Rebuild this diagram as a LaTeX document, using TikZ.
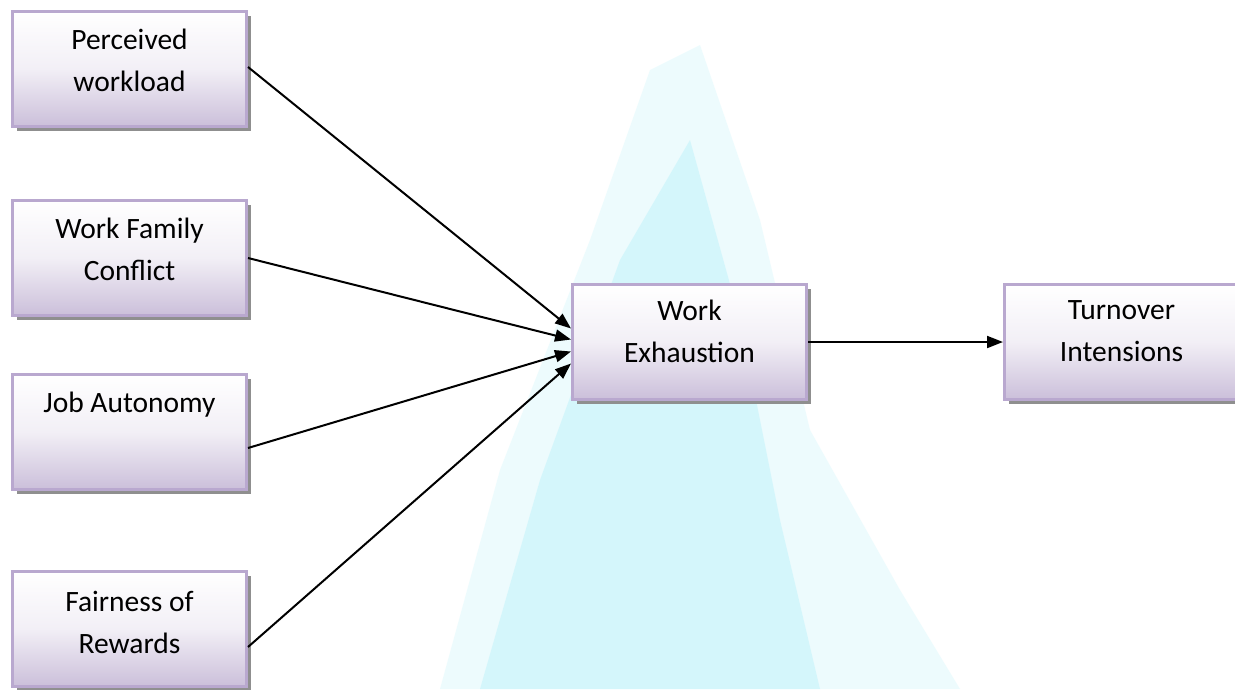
\documentclass[tikz,border=0pt]{standalone}
\usepackage{fontspec}
\setmainfont{Carlito}
\usetikzlibrary{arrows.meta,shadows,shadings}
\definecolor{boxedge}{HTML}{B9A8CF}
\definecolor{boxbot}{HTML}{CBBFDA}
\definecolor{shadowc}{HTML}{8F8F8F}
\definecolor{wmcyan}{HTML}{D2F7FC}
\definecolor{wmcyan2}{HTML}{BDF2FB}
\begin{document}
\begin{tikzpicture}[x=1pt,y=-1pt,
  box/.style={draw=boxedge, line width=3pt, top color=white, bottom color=boxbot,
    middle color=white!75!boxbot,
    minimum width=234pt, minimum height=115pt, anchor=north west, inner sep=0pt,
    drop shadow={shadow xshift=4pt, shadow yshift=-4pt, fill=shadowc, opacity=1}},
  lbl/.style={anchor=north, align=center, inner sep=0pt, font=\fontsize{29.5}{42}\selectfont},
  arr/.style={line width=2pt, -{Triangle[length=16pt,width=12pt]}}]
\useasboundingbox (0,0) rectangle (1235,689);
\fill[white] (0,0) rectangle (1235,689);
% faint watermark
\fill[wmcyan, opacity=0.4] (650,70) -- (700,45) -- (760,220) -- (810,430) -- (900,590) -- (960,689) -- (440,689) -- (500,470) -- (590,240) -- cycle;
\fill[wmcyan2, opacity=0.5] (690,140) -- (740,320) -- (780,520) -- (820,689) -- (480,689) -- (540,480) -- (620,260) -- cycle;
% boxes
\node[box] (b1) at (11,10) {};
\node[box] (b2) at (11,199) {};
\node[box] (b3) at (11,373) {};
\node[box] (b4) at (11,570) {};
\node[box] (m) at (571,283) {};
\node[box] (r) at (1003,283) {};
% labels
\node[lbl] (t1) at ([yshift=-19pt]b1.north) {Perceived\\workload};
\node[lbl] (t2) at ([yshift=-19pt]b2.north) {Work Family\\Conflict};
\node[lbl] (t3) at ([yshift=-19pt]b3.north) {Job Autonomy};
\node[lbl] (t4) at ([yshift=-21pt]b4.north) {Fairness of\\Rewards};
\node[lbl] (tm) at ([yshift=-17pt]m.north) {Work\\Exhaustion};
\node[lbl] (tr) at ([yshift=-17pt]r.north) {Turnover\\Intensions};
% connectors
\draw[arr] ([yshift=2pt]b1.east) -- ([yshift=13.5pt]m.west);
\draw[arr] (b2.east) -- ([yshift=2.5pt]m.west);
\draw[arr] ([yshift=-16pt]b3.east) -- ([yshift=-9.5pt]m.west);
\draw[arr] ([yshift=-18pt]b4.east) -- ([yshift=-21.5pt]m.west);
\draw[arr] (m.east) -- (r.west);
\end{tikzpicture}
\end{document}
